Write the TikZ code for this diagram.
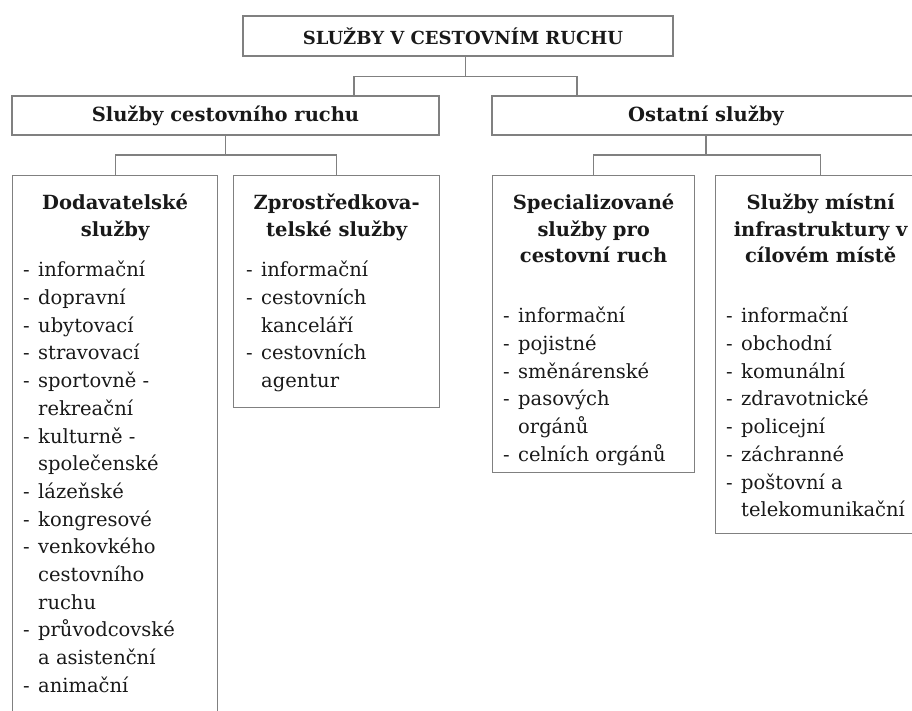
\documentclass[tikz,border=0pt]{standalone}
\usepackage{fontspec}
\setmainfont{DejaVu Serif}
\usetikzlibrary{positioning}
\definecolor{linegray}{RGB}{128,128,128}
\definecolor{ink}{RGB}{25,25,25}
\tikzset{
  box/.style={draw=linegray, line width=1.3pt, inner sep=0pt, text=ink},
  title/.style={font=\fontsize{19.5}{26.5}\selectfont\bfseries, align=center,
    anchor=north, inner sep=0pt, text=ink},
  items/.style={align=left, anchor=north west, inner sep=0pt, text=ink},
  conn/.style={draw=linegray, line width=1.3pt}
}
\newcommand\itm{\makebox[15pt][l]{-}}
\newcommand\cnt{\hspace*{15pt}}
\begin{document}
\begin{tikzpicture}[x=1pt, y=-1pt, font=\fontsize{19.5}{27.7}\selectfont]
  \useasboundingbox (0,0) rectangle (912,711);
  \clip (0,0) rectangle (912,711);
  % upper levels
  \node[box, minimum width=430pt, minimum height=40pt] (top) at (458,36)
    {\fontsize{18}{22}\selectfont\bfseries\hspace{10pt}SLUŽBY V CESTOVNÍM RUCHU};
  \node[box, minimum width=427pt, minimum height=39pt] (scr) at (225.5,115.5)
    {\bfseries Služby cestovního ruchu};
  \node[box, minimum width=428pt, minimum height=39pt] (ost) at (706,115.5)
    {\bfseries Ostatní služby};
  % lower boxes
  \node[box, minimum width=205pt, minimum height=545pt, anchor=north west] (dod) at (12,175) {};
  \node[box, minimum width=206pt, minimum height=232pt, anchor=north west] (zpr) at (233,175) {};
  \node[box, minimum width=202pt, minimum height=297pt, anchor=north west] (spec) at (492,175) {};
  \node[box, minimum width=210pt, minimum height=358pt, anchor=north west] (mist) at (715,175) {};
  % titles
  \node[title, below=19pt of dod.north] (dodt) {Dodavatelské\\služby};
  \node[title, below=19pt of zpr.north] (zprt) {Zprostředkova-\\telské služby};
  \node[title, below=19pt of spec.north] (spect) {Specializované\\služby pro\\cestovní ruch};
  \node[title, below=19pt of mist.north] (mistt) {Služby místní\\infrastruktury v\\cílovém místě};
  % item lists
  \node[items] (dodi) at (23,261) {\itm informační\\ \itm dopravní\\ \itm ubytovací\\
    \itm stravovací\\ \itm sportovně -\\ \cnt rekreační\\ \itm kulturně -\\
    \cnt společenské\\ \itm lázeňské\\ \itm kongresové\\ \itm venkovkého\\
    \cnt cestovního\\ \cnt ruchu\\ \itm průvodcovské\\ \cnt a asistenční\\
    \itm animační};
  \node[items] (zpri) at (246,261) {\itm informační\\ \itm cestovních\\
    \cnt kanceláří\\ \itm cestovních\\ \cnt agentur};
  \node[items] (speci) at (503,307) {\itm informační\\ \itm pojistné\\
    \itm směnárenské\\ \itm pasových\\ \cnt orgánů\\ \itm celních orgánů};
  \node[items] (misti) at (726,307) {\itm informační\\ \itm obchodní\\
    \itm komunální\\ \itm zdravotnické\\ \itm policejní\\ \itm záchranné\\
    \itm poštovní a\\ \cnt telekomunikační};
  % connectors
  \begin{scope}[conn]
    \draw ([xshift=7.5pt]top.south) -- ++(0,20) coordinate (tj);
    \draw (tj) -| ([xshift=128.5pt]scr.north);
    \draw (tj) -| ([xshift=-129pt]ost.north);
    \draw (scr.south) -- ++(0,19.5) coordinate (lj);
    \draw (lj) -| (dod.north);
    \draw (lj) -| (zpr.north);
    \draw (ost.south) -- ++(0,19.5) coordinate (rj);
    \draw (rj) -| (spec.north);
    \draw (rj) -| (mist.north);
  \end{scope}
\end{tikzpicture}
\end{document}
